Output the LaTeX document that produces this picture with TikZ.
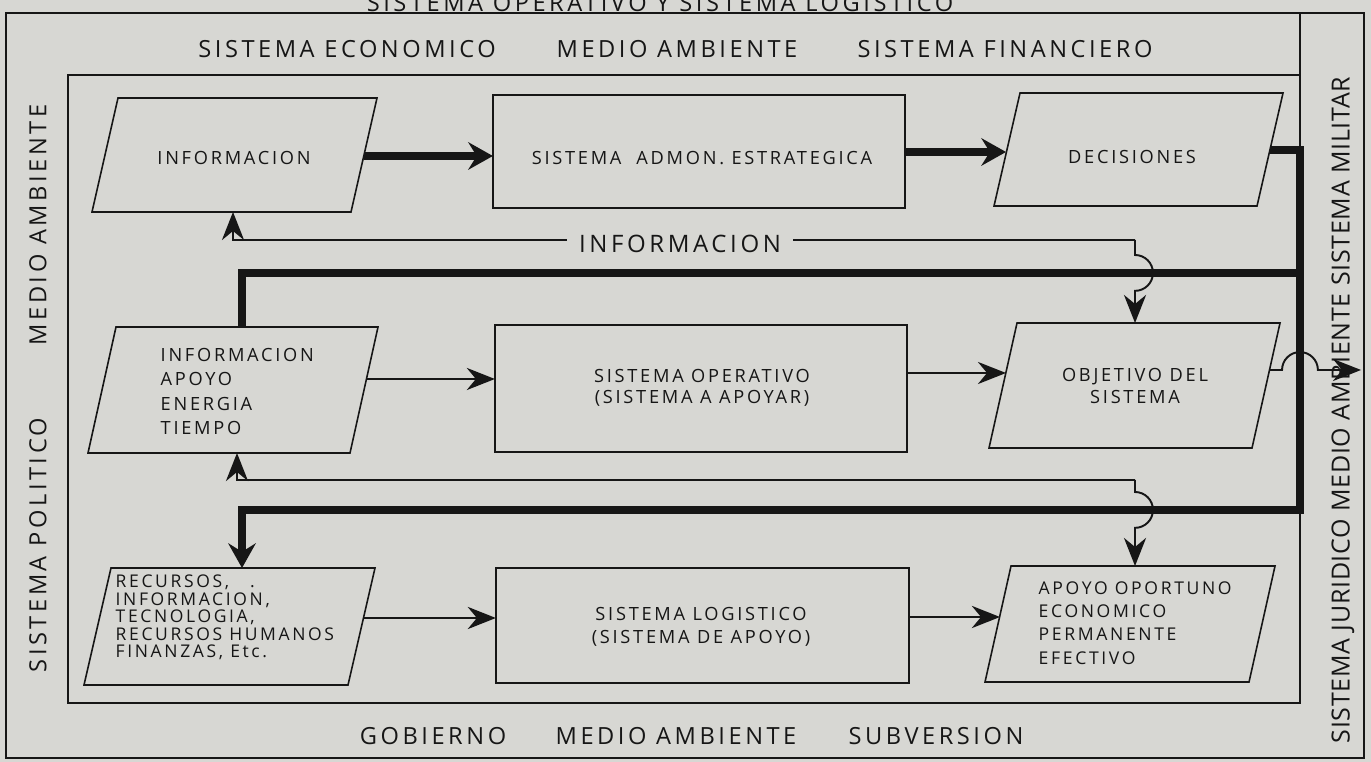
\documentclass[tikz,border=0pt]{standalone}
\usepackage{fontspec}
\setmainfont{Open Sans}
\newfontfamily\spaced[LetterSpace=15]{Open Sans}
\newfontfamily\vfont[LetterSpace=3]{Open Sans}
\usetikzlibrary{arrows.meta,calc}
\definecolor{paper}{RGB}{215,215,211}
\definecolor{ink}{RGB}{22,22,22}
\begin{document}
\begin{tikzpicture}[x=0.01cm,y=-0.01cm,
  boxline/.style={draw=ink,line width=0.45pt},
  tip/.style={-{Stealth[length=8pt,width=6.3pt,inset=2.6pt]}},
  heavytip/.style={-{Stealth[length=7pt,width=7.8pt,inset=2.4pt]}},
  heavy/.style={draw=ink,line width=2.3pt},
  fine/.style={draw=ink,line width=0.55pt},
  medium/.style={draw=ink,line width=0.8pt},
  rectbox/.style={boxline,inner sep=0pt,outer sep=0pt},
  boxtext/.style={text=ink,inner sep=0pt,font=\spaced\fontsize{5.18pt}{6.2pt}\selectfont},
  lab/.style={text=ink,inner sep=0pt,font=\spaced\fontsize{6.72pt}{8pt}\selectfont},
  vlab/.style={text=ink,inner sep=0pt,font=\vfont\fontsize{7.1pt}{8pt}\selectfont},
]
\fill[paper] (0,0) rectangle (1371,762);
\useasboundingbox (0,0) rectangle (1371,762);

% title (cut at top, as in the reference)
\begin{scope}
\clip (0,0) rectangle (1371,762);
\node[lab,anchor=base] (title) at (660,12) {SISTEMA OPERATIVO Y SISTEMA LOGISTICO};
\end{scope}

% frames
\draw[ink,line width=0.6pt] (6,13) rectangle (1364,758);
\draw[boxline] (68,75) rectangle (1300,703);
\draw[boxline] (1300,13) -- (1300,75);

% environment labels
\node[lab] (top1) at (347,49) {SISTEMA ECONOMICO};
\node[lab] (top2) at (677,49) {MEDIO AMBIENTE};
\node[lab] (top3) at (1005,49) {SISTEMA FINANCIERO};
\node[lab] (bot1) at (433,736) {GOBIERNO};
\node[lab] (bot2) at (676,736) {MEDIO AMBIENTE};
\node[lab] (bot3) at (936,736) {SUBVERSION};
\node[lab,rotate=90] (left1) at (38,225) {MEDIO AMBIENTE};
\node[lab,rotate=90] (left2) at (38,545) {SISTEMA POLITICO};
\node[vlab,rotate=90] (right1) at (1343,410) {SISTEMA JURIDICO MEDIO AMBIENTE SISTEMA MILITAR};

% parallelograms
\draw[boxline] (118,98) -- (377,98) -- (351,212) -- (92,212) -- cycle;
\draw[boxline] (1020,93) -- (1283,93) -- (1257,206) -- (994,206) -- cycle;
\draw[boxline] (116,327) -- (378,327) -- (350,453) -- (88,453) -- cycle;
\draw[boxline] (1017,323) -- (1280,323) -- (1252,448) -- (989,448) -- cycle;
\draw[boxline] (111,568) -- (375,568) -- (348,685) -- (84,685) -- cycle;
\draw[boxline] (1011,566) -- (1275,566) -- (1249,682) -- (985,682) -- cycle;

% rectangles
\node[rectbox,minimum width=4.12cm,minimum height=1.13cm] (r1) at (699,151.5) {};
\node[rectbox,minimum width=4.12cm,minimum height=1.27cm] (r2) at (701,388.5) {};
\node[rectbox,minimum width=4.13cm,minimum height=1.15cm] (r3) at (702.5,625.5) {};

% texts
\node[boxtext] (t1) at (234,158) {INFORMACION};
\node[boxtext] (t2) at (702,158) {SISTEMA\ \ ADMON. ESTRATEGICA};
\node[boxtext] (t3) at (1132,157) {DECISIONES};
\node[boxtext,align=left,anchor=west,font=\spaced\fontsize{5.18pt}{6.97pt}\selectfont] (t4) at (160,391.5)
  {INFORMACION\\APOYO\\ENERGIA\\TIEMPO};
\node[boxtext,align=center,font=\spaced\fontsize{5.18pt}{5.97pt}\selectfont] (t5) at (702,387.5)
  {SISTEMA OPERATIVO\\(SISTEMA A APOYAR)};
\node[boxtext,align=center,font=\spaced\fontsize{5.18pt}{6.26pt}\selectfont] (t6) at (1135,386)
  {OBJETIVO DEL\\SISTEMA};
\node[boxtext,align=left,anchor=west,font=\spaced\fontsize{4.98pt}{4.95pt}\selectfont] (t7) at (115,617.5)
  {RECURSOS,\hspace{1.2em}.\\INFORMACION,\\TECNOLOGIA,\\RECURSOS HUMANOS\\FINANZAS, Etc.};
\node[boxtext,align=center,font=\spaced\fontsize{5.18pt}{6.54pt}\selectfont] (t8) at (701,626.5)
  {SISTEMA LOGISTICO\\(SISTEMA DE APOYO)};
\node[boxtext,align=left,anchor=west,font=\spaced\fontsize{5.0pt}{6.64pt}\selectfont] (t9) at (1038,623)
  {APOYO OPORTUNO\\ECONOMICO\\PERMANENTE\\EFECTIVO};

% connection points
\coordinate (p1r) at (364,156);
\coordinate (p1b) at (233,212);
\coordinate (p2l) at (1006,152);
\coordinate (p2r) at (1270,150);
\coordinate (p3r) at (366,379);
\coordinate (p3t) at (242,327);
\coordinate (p3b) at (237,453);
\coordinate (p4l) at (1006,373);
\coordinate (p4r) at (1269,370);
\coordinate (p4t) at (1135,323);
\coordinate (p5r) at (363,618);
\coordinate (p5t) at (242,568);
\coordinate (p6l) at (1000,617);
\coordinate (p6t) at (1135,566);
\coordinate (j1) at (1300,273);
\coordinate (j2) at (1300,510);
\coordinate (c1) at (1135,240);
\coordinate (c2) at (1135,480);
\coordinate (outr) at (1361,370);

% heavy connectors
\draw[heavy,heavytip] (p1r) -- (p1r -| r1.west);
\draw[heavy,heavytip] (r1.east |- p2l) -- (p2l);
\draw[heavy,heavytip] (p2r) -| (j2) -| (p5t);
\draw[heavy] (j1) -| (p3t);

% information feedback
\draw[fine,tip] (c1) -| (p1b);
\draw[fine,tip] (c1) -- (1135,255) arc[start angle=90,end angle=-90,radius=5.1pt] -- (p4t);
\node[lab,fill=paper,inner xsep=3.5pt,inner ysep=2pt,font=\spaced\fontsize{6.83pt}{8pt}\selectfont] (infolab) at (680,244) {INFORMACION};

\draw[fine,tip] (c2) -| (p3b);
\draw[fine,tip] (c2) -- (1135,492) arc[start angle=90,end angle=-90,radius=5.1pt] -- (p6t);

% output of objective
\draw[fine,tip] (p4r) -- (1282,370) arc[start angle=180,end angle=0,radius=5.1pt] -- (outr);

% row arrows
\draw[fine,tip] (p3r) -- (p3r -| r2.west);
\draw[fine,tip] (r2.east |- p4l) -- (p4l);
\draw[medium,tip] (p5r) -- (p5r -| r3.west);
\draw[medium,tip] (r3.east |- p6l) -- (p6l);
\end{tikzpicture}
\end{document}
